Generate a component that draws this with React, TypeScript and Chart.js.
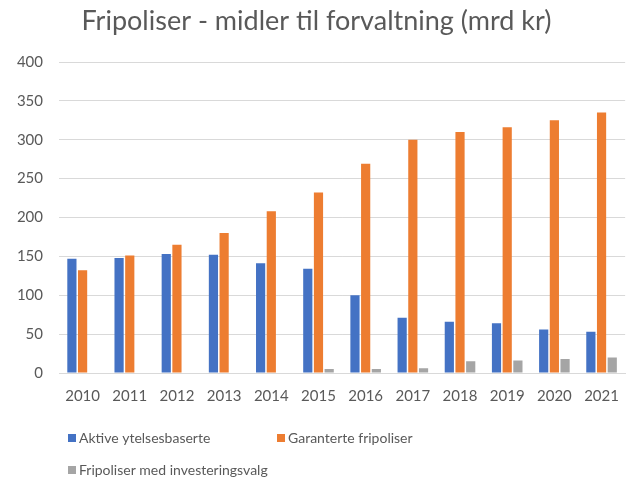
import React, { useEffect, useRef } from "react";
import { Chart, registerables } from "chart.js";

Chart.register(...registerables);

const TITLE = "Fripoliser - midler til forvaltning (mrd kr)";
const categories = ["2010", "2011", "2012", "2013", "2014", "2015", "2016", "2017", "2018", "2019", "2020", "2021"];
const seriesNames = ["Aktive ytelsesbaserte", "Garanterte fripoliser", "Fripoliser med investeringsvalg"];
const aktive = [147, 148, 153, 152, 141, 134, 100, 71, 66, 64, 56, 53];
const garanterte = [132, 151, 165, 180, 208, 232, 269, 300, 310, 316, 325, 335];
const investering = [0, 0, 0, 0, 0, 5, 5, 6, 15, 16, 18, 20];
const yTicks = [0, 50, 100, 150, 200, 250, 300, 350, 400];

const colors = ["#4472C4", "#ED7D31", "#A5A5A5"];
const textColor = "#595959";
const FONT = "Lato, 'Open Sans', sans-serif";

export default function App() {
  const ref = useRef<HTMLCanvasElement | null>(null);

  useEffect(() => {
    if (!ref.current) return;
    const textPlugin = {
      id: "customText",
      afterDraw(chart: any) {
        const ctx = chart.ctx as CanvasRenderingContext2D;
        ctx.save();
        ctx.fillStyle = textColor;
        ctx.textAlign = "center";
        ctx.textBaseline = "alphabetic";
        ctx.font = `27px ${FONT}`;
        ctx.fillText(TITLE, chart.width / 2, 30);
        // legend
        const cols = [68, 277];
        const rows = [438, 470];
        ctx.font = `14px ${FONT}`;
        ctx.textAlign = "left";
        ctx.textBaseline = "middle";
        chart.data.datasets.forEach((ds: any, i: number) => {
          const x = cols[i % 2];
          const y = rows[Math.floor(i / 2)];
          ctx.fillStyle = ds.backgroundColor;
          ctx.fillRect(x, y - 4, 8, 8);
          ctx.fillStyle = textColor;
          ctx.fillText(ds.label, x + 11, y);
        });
        ctx.restore();
      },
    };

    const chart = new Chart(ref.current, {
      type: "bar",
      data: {
        labels: categories,
        datasets: [
          { label: seriesNames[0], data: aktive, backgroundColor: colors[0] },
          { label: seriesNames[1], data: garanterte, backgroundColor: colors[1] },
          { label: seriesNames[2], data: investering, backgroundColor: colors[2] },
        ],
      },
      options: {
        animation: false,
        responsive: true,
        maintainAspectRatio: false,
        layout: { padding: { top: 62, right: 1, bottom: 78, left: 0 } },
        datasets: { bar: { categoryPercentage: 0.68, barPercentage: 0.86 } } as any,
        plugins: {
          legend: { display: false },
          title: { display: false },
          tooltip: { enabled: false },
        },
        scales: {
          x: {
            grid: { display: false, drawTicks: false },
            border: { display: true, color: "#d9d9d9", width: 1 },
            ticks: { color: textColor, font: { family: FONT, size: 15 }, padding: 14 },
            afterFit: (s: any) => {
              s.height = 30;
            },
          },
          y: {
            min: 0,
            max: 400,
            afterBuildTicks: (s: any) => {
              s.ticks = yTicks.map((v) => ({ value: v }));
            },
            grid: { color: "#d9d9d9", lineWidth: 1, drawTicks: false },
            border: { display: false },
            ticks: { color: textColor, font: { family: FONT, size: 15 }, padding: 16 },
            afterFit: (s: any) => {
              s.width = 59;
            },
          },
        },
      },
      plugins: [textPlugin],
    });
    return () => chart.destroy();
  }, []);

  return (
    <div style={{ position: "absolute", left: 0, top: 0, width: 633, height: 481, background: "#fff" }}>
      <canvas ref={ref} />
    </div>
  );
}
